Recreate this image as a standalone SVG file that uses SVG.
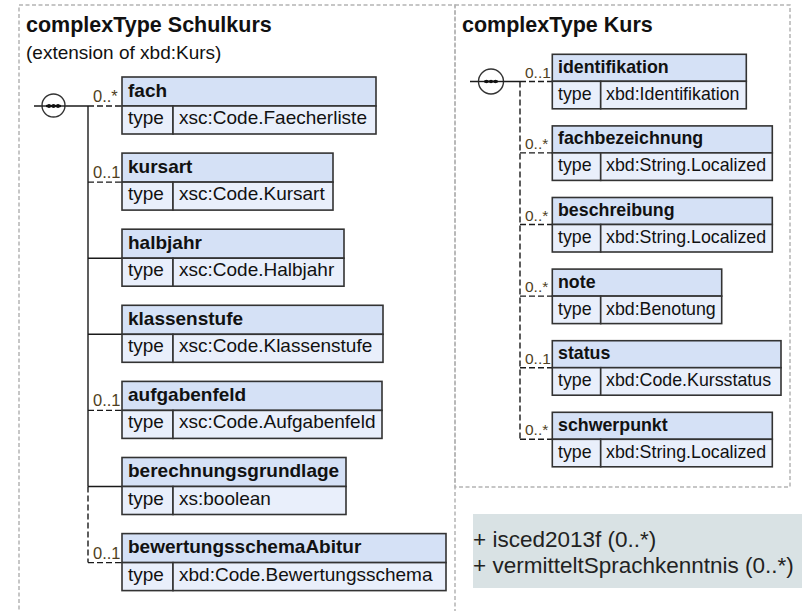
<svg xmlns="http://www.w3.org/2000/svg" width="802" height="611" viewBox="0 0 802 611">
<style>
text{font-family:"Liberation Sans",Arial,sans-serif;fill:#111}
.title{font-size:21.5px;font-weight:bold}
.sub{font-size:19px}
.panel{fill:none;stroke:#b4b4b4;stroke-width:1.5;stroke-dasharray:4 2.5}
.hdr{fill:#d5e1f6;stroke:#333;stroke-width:1.6}
.row{fill:#e9effb;stroke:#333;stroke-width:1.6}
.nmL{font-size:19px;font-weight:bold}
.tyL{font-size:19px}
.nmR{font-size:17.8px;font-weight:bold}
.tyR{font-size:17.8px}
.mL{font-size:16.5px;fill:#4f3f22}
.mR{font-size:15.5px;fill:#4f3f22}
.ln{stroke:#1a1a1a;stroke-width:1.4;fill:none}
.dash{stroke:#1a1a1a;stroke-width:1.4;fill:none;stroke-dasharray:6 3}
.comp{fill:#fff;stroke:#333;stroke-width:1.4}
.dot{fill:#111}
.note{fill:#d9e2e4}
.nt{font-size:22.5px;fill:#222}
</style>

<!-- panels -->
<rect class="panel" x="19" y="5" width="436" height="630"/>
<rect class="panel" x="455" y="5" width="335" height="482"/>

<text class="title" x="26" y="32">complexType Schulkurs</text>
<text class="sub" x="26" y="59">(extension of xbd:Kurs)</text>
<text class="title" x="462" y="32">complexType Kurs</text>

<!-- connectors -->
<g id="connectors">
  <!-- left compositor -->
  <line class="ln" x1="34" y1="106" x2="88" y2="106"/>
  <line class="ln" x1="88" y1="106" x2="88" y2="486.5"/>
  <line class="dash" x1="88" y1="486.5" x2="88" y2="562.6"/>
  <line class="dash" x1="88" y1="106" x2="122" y2="106"/>
  <line class="dash" x1="88" y1="182.1" x2="122" y2="182.1"/>
  <line class="ln" x1="88" y1="258.2" x2="122" y2="258.2"/>
  <line class="ln" x1="88" y1="334.3" x2="122" y2="334.3"/>
  <line class="dash" x1="88" y1="410.4" x2="122" y2="410.4"/>
  <line class="ln" x1="88" y1="486.5" x2="122" y2="486.5"/>
  <line class="dash" x1="88" y1="562.6" x2="122" y2="562.6"/>
  <text class="mL" x="93" y="102">0..*</text>
  <text class="mL" x="93" y="178.1">0..1</text>
  <text class="mL" x="93" y="406.4">0..1</text>
  <text class="mL" x="93" y="558.6">0..1</text>
  <!-- right compositor -->
  <line class="ln" x1="470" y1="81.5" x2="520" y2="81.5"/>
  <line class="dash" x1="520" y1="81.5" x2="520" y2="439.3"/>
  <line class="dash" x1="520" y1="81.5" x2="552" y2="81.5"/>
  <line class="dash" x1="520" y1="152.9" x2="552" y2="152.9"/>
  <line class="dash" x1="520" y1="224.5" x2="552" y2="224.5"/>
  <line class="dash" x1="520" y1="296.1" x2="552" y2="296.1"/>
  <line class="dash" x1="520" y1="367.7" x2="552" y2="367.7"/>
  <line class="dash" x1="520" y1="439.3" x2="552" y2="439.3"/>
  <text class="mR" x="525" y="77.5">0..1</text>
  <text class="mR" x="525" y="148.9">0..*</text>
  <text class="mR" x="525" y="220.5">0..*</text>
  <text class="mR" x="525" y="292.1">0..*</text>
  <text class="mR" x="525" y="363.7">0..1</text>
  <text class="mR" x="525" y="435.3">0..*</text>
</g>

<!-- compositors -->
<g id="seqL">
  <circle class="comp" cx="53.5" cy="105.5" r="11.5"/>
  <line class="ln" x1="42" y1="106" x2="65" y2="106"/>
  <line stroke="#111" stroke-width="2.2" x1="46" y1="106" x2="61" y2="106"/>
  <circle class="dot" cx="49" cy="106" r="2"/>
  <circle class="dot" cx="53.5" cy="106" r="2"/>
  <circle class="dot" cx="58" cy="106" r="2"/>
</g>
<g id="seqR">
  <circle class="comp" cx="491" cy="81.5" r="12.5"/>
  <line class="ln" x1="478.5" y1="81.5" x2="503.5" y2="81.5"/>
  <line stroke="#111" stroke-width="2" x1="484" y1="81.5" x2="498" y2="81.5"/>
  <circle class="dot" cx="486.5" cy="81.5" r="1.8"/>
  <circle class="dot" cx="491" cy="81.5" r="1.8"/>
  <circle class="dot" cx="495.5" cy="81.5" r="1.8"/>
</g>

<!-- left elements -->
<g id="fach">
  <rect class="hdr" x="122" y="77" width="254" height="29"/>
  <rect class="row" x="122" y="106" width="51" height="28"/>
  <rect class="row" x="173" y="106" width="203" height="28"/>
  <text class="nmL" x="128" y="96.5">fach</text>
  <text class="tyL" x="128" y="124">type</text>
  <text class="tyL" x="179" y="124">xsc:Code.Faecherliste</text>
</g>
<g id="kursart">
  <rect class="hdr" x="122" y="153.1" width="211" height="29"/>
  <rect class="row" x="122" y="182.1" width="51" height="28"/>
  <rect class="row" x="173" y="182.1" width="160" height="28"/>
  <text class="nmL" x="128" y="172.6">kursart</text>
  <text class="tyL" x="128" y="200.1">type</text>
  <text class="tyL" x="179" y="200.1">xsc:Code.Kursart</text>
</g>
<g id="halbjahr">
  <rect class="hdr" x="122" y="229.2" width="222" height="29"/>
  <rect class="row" x="122" y="258.2" width="51" height="28"/>
  <rect class="row" x="173" y="258.2" width="171" height="28"/>
  <text class="nmL" x="128" y="248.7">halbjahr</text>
  <text class="tyL" x="128" y="276.2">type</text>
  <text class="tyL" x="179" y="276.2">xsc:Code.Halbjahr</text>
</g>
<g id="klassenstufe">
  <rect class="hdr" x="122" y="305.3" width="261" height="29"/>
  <rect class="row" x="122" y="334.3" width="51" height="28"/>
  <rect class="row" x="173" y="334.3" width="210" height="28"/>
  <text class="nmL" x="128" y="324.8">klassenstufe</text>
  <text class="tyL" x="128" y="352.3">type</text>
  <text class="tyL" x="179" y="352.3">xsc:Code.Klassenstufe</text>
</g>
<g id="aufgabenfeld">
  <rect class="hdr" x="122" y="381.4" width="260" height="29"/>
  <rect class="row" x="122" y="410.4" width="51" height="28"/>
  <rect class="row" x="173" y="410.4" width="209" height="28"/>
  <text class="nmL" x="128" y="400.9">aufgabenfeld</text>
  <text class="tyL" x="128" y="428.4">type</text>
  <text class="tyL" x="179" y="428.4">xsc:Code.Aufgabenfeld</text>
</g>
<g id="berechnungsgrundlage">
  <rect class="hdr" x="122" y="457.5" width="224" height="29"/>
  <rect class="row" x="122" y="486.5" width="51" height="28"/>
  <rect class="row" x="173" y="486.5" width="173" height="28"/>
  <text class="nmL" x="128" y="477">berechnungsgrundlage</text>
  <text class="tyL" x="128" y="504.5">type</text>
  <text class="tyL" x="179" y="504.5">xs:boolean</text>
</g>
<g id="bewertungsschemaAbitur">
  <rect class="hdr" x="122" y="533.6" width="324" height="29"/>
  <rect class="row" x="122" y="562.6" width="51" height="28"/>
  <rect class="row" x="173" y="562.6" width="273" height="28"/>
  <text class="nmL" x="128" y="553.1">bewertungsschemaAbitur</text>
  <text class="tyL" x="128" y="580.6">type</text>
  <text class="tyL" x="179" y="580.6">xbd:Code.Bewertungsschema</text>
</g>

<!-- right elements -->
<g id="identifikation">
  <rect class="hdr" x="552.3" y="54.3" width="194" height="27"/>
  <rect class="row" x="552.3" y="81.3" width="48.4" height="27.5"/>
  <rect class="row" x="600.7" y="81.3" width="145.6" height="27.5"/>
  <text class="nmR" x="558" y="72.8">identifikation</text>
  <text class="tyR" x="558" y="99.8">type</text>
  <text class="tyR" x="606" y="99.8">xbd:Identifikation</text>
</g>
<g id="fachbezeichnung">
  <rect class="hdr" x="552.3" y="125.9" width="220" height="27"/>
  <rect class="row" x="552.3" y="152.9" width="48.4" height="27.5"/>
  <rect class="row" x="600.7" y="152.9" width="171.6" height="27.5"/>
  <text class="nmR" x="558" y="144.4">fachbezeichnung</text>
  <text class="tyR" x="558" y="171.4">type</text>
  <text class="tyR" x="606" y="171.4">xbd:String.Localized</text>
</g>
<g id="beschreibung">
  <rect class="hdr" x="552.3" y="197.5" width="220" height="27"/>
  <rect class="row" x="552.3" y="224.5" width="48.4" height="27.5"/>
  <rect class="row" x="600.7" y="224.5" width="171.6" height="27.5"/>
  <text class="nmR" x="558" y="216">beschreibung</text>
  <text class="tyR" x="558" y="243">type</text>
  <text class="tyR" x="606" y="243">xbd:String.Localized</text>
</g>
<g id="note">
  <rect class="hdr" x="552.3" y="269.1" width="169.4" height="27"/>
  <rect class="row" x="552.3" y="296.1" width="48.4" height="27.5"/>
  <rect class="row" x="600.7" y="296.1" width="121" height="27.5"/>
  <text class="nmR" x="558" y="287.6">note</text>
  <text class="tyR" x="558" y="314.6">type</text>
  <text class="tyR" x="606" y="314.6">xbd:Benotung</text>
</g>
<g id="status">
  <rect class="hdr" x="552.3" y="340.7" width="228.7" height="27"/>
  <rect class="row" x="552.3" y="367.7" width="48.4" height="27.5"/>
  <rect class="row" x="600.7" y="367.7" width="180.3" height="27.5"/>
  <text class="nmR" x="558" y="359.2">status</text>
  <text class="tyR" x="558" y="386.2">type</text>
  <text class="tyR" x="606" y="386.2">xbd:Code.Kursstatus</text>
</g>
<g id="schwerpunkt">
  <rect class="hdr" x="552.3" y="412.3" width="220" height="27"/>
  <rect class="row" x="552.3" y="439.3" width="48.4" height="27.5"/>
  <rect class="row" x="600.7" y="439.3" width="171.6" height="27.5"/>
  <text class="nmR" x="558" y="430.8">schwerpunkt</text>
  <text class="tyR" x="558" y="457.8">type</text>
  <text class="tyR" x="606" y="457.8">xbd:String.Localized</text>
</g>

<!-- note -->
<g id="attributes">
  <rect class="note" x="473" y="514" width="340" height="74"/>
  <text class="nt" x="473" y="546.5">+ isced2013f (0..*)</text>
  <text class="nt" x="473" y="573">+ vermitteltSprachkenntnis (0..*)</text>
</g>
</svg>
